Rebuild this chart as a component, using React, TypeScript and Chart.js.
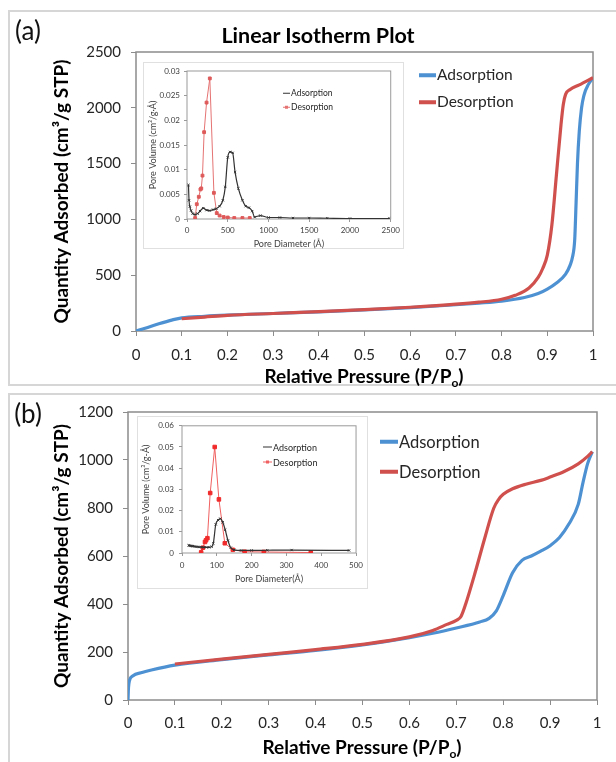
import React, { useEffect, useRef } from "react";
import { Chart, registerables } from "chart.js";
Chart.register(...registerables);

const FONT = "Lato, 'Open Sans', sans-serif";
Chart.defaults.font.family = FONT;

// ---------- Panel (a) main isotherm ----------
const aAdsP = [0, 0.02, 0.05, 0.08, 0.1, 0.15, 0.2, 0.3, 0.4, 0.5, 0.6, 0.7, 0.75, 0.8, 0.85, 0.88, 0.9, 0.92, 0.94, 0.95, 0.955, 0.96, 0.963, 0.966, 0.97, 0.975, 0.98, 0.99, 1.0];
const aAdsQ = [0, 25, 65, 100, 118, 132, 142, 157, 172, 190, 210, 235, 250, 268, 300, 335, 375, 430, 510, 590, 660, 820, 1150, 1500, 1790, 2000, 2110, 2210, 2270];
const aDesP = [0.1, 0.15, 0.2, 0.3, 0.4, 0.5, 0.6, 0.7, 0.75, 0.8, 0.83, 0.86, 0.88, 0.89, 0.9, 0.91, 0.92, 0.93, 0.935, 0.94, 0.95, 0.97, 1.0];
const aDesQ = [110, 125, 140, 157, 173, 191, 213, 240, 258, 285, 320, 385, 480, 560, 680, 950, 1400, 1850, 2030, 2120, 2165, 2205, 2270];

// ---------- Panel (a) inset: pore size distribution ----------
const iaAdsD = [18, 25, 35, 50, 70, 100, 130, 160, 200, 240, 280, 320, 360, 400, 440, 470, 500, 530, 560, 590, 630, 680, 720, 760, 800, 830, 900, 1000, 1140, 1300, 1500, 1720, 2000, 2480];
const iaAdsV = [0.0069, 0.0038, 0.0025, 0.0017, 0.0011, 0.0009, 0.0011, 0.0016, 0.0022, 0.0018, 0.0017, 0.0019, 0.0021, 0.0026, 0.0038, 0.0065, 0.0125, 0.0136, 0.0134, 0.0095, 0.0062, 0.0038, 0.0026, 0.0023, 0.0016, 0.0004, 0.0007, 0.0003, 0.0003, 0.0002, 0.0002, 0.00015, 0.0001, 0.0001];
const iaDesD = [100, 120, 145, 165, 175, 190, 210, 240, 280, 330, 365, 400, 450, 500, 580, 680, 770];
const iaDesV = [0.0002, 0.003, 0.0045, 0.006, 0.0062, 0.0088, 0.0176, 0.0236, 0.0285, 0.0053, 0.0012, 0.0007, 0.0004, 0.0003, 0.0002, 0.0002, 0.0002];

// ---------- Panel (b) main isotherm ----------
const bAdsP = [0, 0.001, 0.003, 0.01, 0.03, 0.05, 0.1, 0.2, 0.3, 0.4, 0.5, 0.6, 0.65, 0.7, 0.75, 0.77, 0.785, 0.8, 0.82, 0.84, 0.86, 0.88, 0.9, 0.92, 0.94, 0.96, 0.97, 0.98, 0.99];
const bAdsQ = [0, 50, 80, 100, 115, 125, 145, 168, 188, 207, 230, 260, 278, 300, 325, 340, 370, 435, 530, 582, 600, 620, 643, 677, 733, 815, 905, 985, 1035];
const bDesP = [0.1, 0.2, 0.3, 0.4, 0.5, 0.6, 0.65, 0.68, 0.7, 0.71, 0.72, 0.74, 0.76, 0.78, 0.79, 0.8, 0.82, 0.85, 0.88, 0.9, 0.93, 0.96, 0.98, 0.99];
const bDesQ = [150, 170, 190, 210, 232, 263, 290, 315, 332, 348, 400, 530, 670, 800, 835, 857, 880, 900, 915, 929, 952, 984, 1015, 1035];

// ---------- Panel (b) inset ----------
const ibAdsD = [19, 22, 25, 28, 31, 35, 40, 45, 50, 56, 62, 70, 78, 85, 90, 97, 104, 110, 117, 124, 132, 140, 150, 170, 200, 245, 315, 480];
const ibAdsV = [0.0036, 0.0035, 0.0034, 0.0033, 0.0032, 0.0031, 0.003, 0.0029, 0.0028, 0.0028, 0.0027, 0.0027, 0.0027, 0.003, 0.0045, 0.0135, 0.0155, 0.0162, 0.0145, 0.011, 0.0059, 0.0025, 0.0015, 0.0012, 0.0012, 0.0013, 0.0014, 0.0012];
const ibDesD = [55, 60, 66, 69, 73, 81, 94, 106, 123, 146, 180, 235, 370];
const ibDesV = [0.0003, 0.0025, 0.0052, 0.006, 0.007, 0.0283, 0.05, 0.0253, 0.0046, 0.0015, 0.0006, 0.0005, 0.0002];

const BLUE = "#4e91d2";
const RED = "#cf504d";

const pts = (xs: number[], ys: number[]) => xs.map((x, i) => ({ x, y: ys[i] }));
const fmt = (v: number) => String(Number(Number(v).toFixed(4)));

const framePlugin = (color: string, lw: number) => ({
  id: "frameRect",
  beforeDatasetsDraw(chart: any) {
    const { ctx, chartArea: a } = chart;
    ctx.save();
    ctx.strokeStyle = color;
    ctx.lineWidth = lw;
    ctx.strokeRect(a.left, a.top, a.right - a.left, a.bottom - a.top);
    ctx.restore();
  },
});

function mainConfig(o: any) {
  return {
    type: "line",
    data: {
      datasets: [
        { label: "Desorption", data: pts(o.desP, o.desQ), borderColor: RED, borderWidth: 3.2, pointRadius: 0, cubicInterpolationMode: "monotone", fill: false },
        { label: "Adsorption", data: pts(o.adsP, o.adsQ), borderColor: BLUE, borderWidth: 3.2, pointRadius: 0, cubicInterpolationMode: "monotone", fill: false },
      ],
    },
    options: {
      animation: false,
      responsive: false,
      events: [],
      layout: { padding: { left: 0, right: o.padR, top: o.padT, bottom: 0 } },
      plugins: { legend: { display: false }, tooltip: { enabled: false } },
      scales: {
        x: {
          type: "linear", min: 0, max: 1,
          ticks: { stepSize: 0.1, callback: (v: number) => fmt(v), font: { size: 15 }, color: "#262626", padding: o.xPad, maxRotation: 0 },
          grid: { display: true, drawOnChartArea: false, drawTicks: true, tickLength: 5, color: "#8c8c8c" },
          border: { display: false },
          afterFit: (s: any) => { s.height = o.xH; },
        },
        y: {
          type: "linear", min: 0, max: o.yMax,
          ticks: { stepSize: o.yStep, callback: (v: number) => fmt(v), font: { size: 15 }, color: "#262626", padding: 10 },
          grid: { display: true, drawOnChartArea: false, drawTicks: true, tickLength: 5, color: "#8c8c8c" },
          border: { display: false },
          title: { display: true, text: "Quantity Adsorbed (cm³/g STP)", font: { size: 19, weight: "bold" }, color: "#000", padding: { top: 50, bottom: 0 } },
          afterFit: (s: any) => { s.width = o.yW; },
        },
      },
    },
    plugins: [framePlugin("#8c8c8c", 1.5)],
  };
}

function insetConfig(o: any) {
  return {
    type: "line",
    data: {
      datasets: [
        { label: "Adsorption", data: pts(o.adsD, o.adsV), borderColor: "#333333", backgroundColor: "#333333", borderWidth: 1.2, pointRadius: 1.6, pointStyle: "crossRot", pointBorderWidth: 1, cubicInterpolationMode: "monotone", fill: false },
        { label: "Desorption", data: pts(o.desD, o.desV), borderColor: o.desLine, backgroundColor: o.desMark, borderWidth: 1, pointRadius: o.sq, pointStyle: "rect", pointBorderColor: o.desMark, tension: 0, fill: false },
      ],
    },
    options: {
      animation: false,
      responsive: false,
      events: [],
      layout: { padding: { left: 0, right: o.padR, top: o.padT, bottom: 0 } },
      plugins: { legend: { display: false }, tooltip: { enabled: false } },
      scales: {
        x: {
          type: "linear", min: 0, max: o.xMax,
          ticks: { stepSize: o.xStep, callback: (v: number) => fmt(v), font: { size: 8 }, color: "#404040", padding: o.xPad, maxRotation: 0 },
          grid: { display: true, drawOnChartArea: false, drawTicks: true, tickLength: 3, color: "#9a9a9a" },
          border: { display: false },
          title: { display: true, text: o.xTitle, font: { size: 9 }, color: "#404040", padding: { top: 0, bottom: o.xTitlePad } },
          afterFit: (s: any) => { s.height = o.xH; },
        },
        y: {
          type: "linear", min: 0, max: o.yMax,
          ticks: { stepSize: o.yStep, callback: (v: number) => fmt(v), font: { size: 8 }, color: "#404040", padding: o.yPad },
          grid: { display: true, drawOnChartArea: false, drawTicks: true, tickLength: 3, color: "#9a9a9a" },
          border: { display: false },
          title: { display: true, text: o.yTitle, font: { size: 9 }, color: "#404040", padding: { top: o.yTitlePad, bottom: 0 } },
          afterFit: (s: any) => { s.width = o.yW; },
        },
      },
    },
    plugins: [framePlugin("#9a9a9a", 1)],
  };
}

function ChartCanvas({ left, top, width, height, config, bg }: any) {
  const ref = useRef<HTMLCanvasElement>(null);
  useEffect(() => {
    const chart = new Chart(ref.current as HTMLCanvasElement, config() as any);
    return () => chart.destroy();
  }, []);
  return (
    <canvas ref={ref} width={width} height={height}
      style={{ position: "absolute", left, top, width, height, background: bg || "transparent", display: "block" }} />
  );
}

const abs = (x: number, y: number, extra: any = {}) => ({
  position: "absolute" as const, left: x, top: y, transform: "translate(-50%,-50%)", whiteSpace: "nowrap" as const, lineHeight: 1, fontFamily: FONT, ...extra,
});

function Legend({ x, y, gap, len, thick, size, items }: any) {
  return (
    <>
      {items.map((it: any, i: number) => (
        <div key={i} style={{ position: "absolute", left: x, top: y + i * gap, transform: "translateY(-50%)", display: "flex", alignItems: "center", fontFamily: FONT, fontSize: size, color: "#262626", whiteSpace: "nowrap", lineHeight: 1 }}>
          <span style={{ display: "inline-block", width: len, height: thick, background: it.color, position: "relative", marginRight: 1 }}>
            {it.mark ? <span style={{ position: "absolute", left: len / 2 - it.mark / 2, top: thick / 2 - it.mark / 2, width: it.mark, height: it.mark, background: it.color }} /> : null}
          </span>
          <span>{it.label}</span>
        </div>
      ))}
    </>
  );
}

export default function App() {
  return (
    <div style={{ position: "relative", width: 616, height: 762, background: "#fff", overflow: "hidden" }}>
      <style>{"body{margin:0}"}</style>
      {/* panel frames */}
      <div style={{ position: "absolute", left: 8, top: 10, width: 640, height: 376, border: "2px solid #d6d6d6", boxSizing: "border-box" }} />
      <div style={{ position: "absolute", left: 8, top: 393, width: 640, height: 400, border: "2px solid #d6d6d6", boxSizing: "border-box" }} />

      {/* Panel (a) */}
      <ChartCanvas left={0} top={0} width={616} height={390}
        config={() => mainConfig({ adsP: aAdsP, adsQ: aAdsQ, desP: aDesP, desQ: aDesQ, yMax: 2500, yStep: 500, padR: 23, padT: 52, xH: 59, yW: 136, xPad: 10 })} />
      <div style={abs(28, 30, { fontSize: 26, color: "#111" })}>(a)</div>
      <div style={abs(318, 36, { fontSize: 21.5, fontWeight: 700, color: "#000" })}>Linear Isotherm Plot</div>
      <div style={abs(364, 377, { fontSize: 19, fontWeight: 700, color: "#000" })}>
        Relative Pressure (P/P<span style={{ fontSize: 12, verticalAlign: -4 }}>o</span>)
      </div>
      <Legend x={419} y={75} gap={27} len={17} thick={4} size={15.5}
        items={[{ label: "Adsorption", color: BLUE }, { label: "Desorption", color: RED }]} />

      {/* Inset (a) */}
      <div style={{ position: "absolute", left: 143, top: 62, width: 261, height: 187, border: "1px solid #e0e0e0", background: "#fff", boxSizing: "border-box" }} />
      <ChartCanvas left={143} top={62} width={261} height={187}
        config={() => insetConfig({ adsD: iaAdsD, adsV: iaAdsV, desD: iaDesD, desV: iaDesV, desLine: "#e57373", desMark: "#de5a5a", sq: 2, xMax: 2500, xStep: 500, yMax: 0.03, yStep: 0.005, padR: 11, padT: 9, xH: 30, yW: 44, xPad: 4, yPad: 4, xTitle: "Pore Diameter (Å)", yTitle: "Pore Volume (cm³/g·Å)", xTitlePad: 0, yTitlePad: 5 })} />
      <Legend x={283} y={93} gap={14} len={7} thick={1} size={8.5}
        items={[{ label: "Adsorption", color: "#333" }, { label: "Desorption", color: "#e57373", mark: 3 }]} />

      {/* Panel (b) */}
      <ChartCanvas left={0} top={390} width={616} height={372}
        config={() => mainConfig({ adsP: bAdsP, adsQ: bAdsQ, desP: bDesP, desQ: bDesQ, yMax: 1200, yStep: 200, padR: 19, padT: 22, xH: 62, yW: 128, xPad: 9 })} />
      <div style={abs(28, 413, { fontSize: 26, color: "#111" })}>(b)</div>
      <div style={abs(362, 748, { fontSize: 19, fontWeight: 700, color: "#000" })}>
        Relative Pressure (P/P<span style={{ fontSize: 12, verticalAlign: -4 }}>o</span>)
      </div>
      <Legend x={380} y={442} gap={30} len={18} thick={4} size={16.5}
        items={[{ label: "Adsorption", color: BLUE }, { label: "Desorption", color: RED }]} />

      {/* Inset (b) */}
      <div style={{ position: "absolute", left: 137, top: 416, width: 231, height: 173, border: "1px solid #e0e0e0", background: "#fff", boxSizing: "border-box" }} />
      <ChartCanvas left={137} top={416} width={231} height={173}
        config={() => insetConfig({ adsD: ibAdsD, adsV: ibAdsV, desD: ibDesD, desV: ibDesV, desLine: "#f06060", desMark: "#f02a2a", sq: 2.5, xMax: 500, xStep: 100, yMax: 0.06, yStep: 0.01, padR: 10, padT: 8, xH: 36, yW: 45, xPad: 5, yPad: 5, xTitle: "Pore Diameter(Å)", yTitle: "Pore Volume (cm³/g-Å)", xTitlePad: 5, yTitlePad: 4 })} />
      <Legend x={263} y={447} gap={15} len={9} thick={1} size={9}
        items={[{ label: "Adsorption", color: "#333" }, { label: "Desorption", color: "#f06060", mark: 3 }]} />
    </div>
  );
}
